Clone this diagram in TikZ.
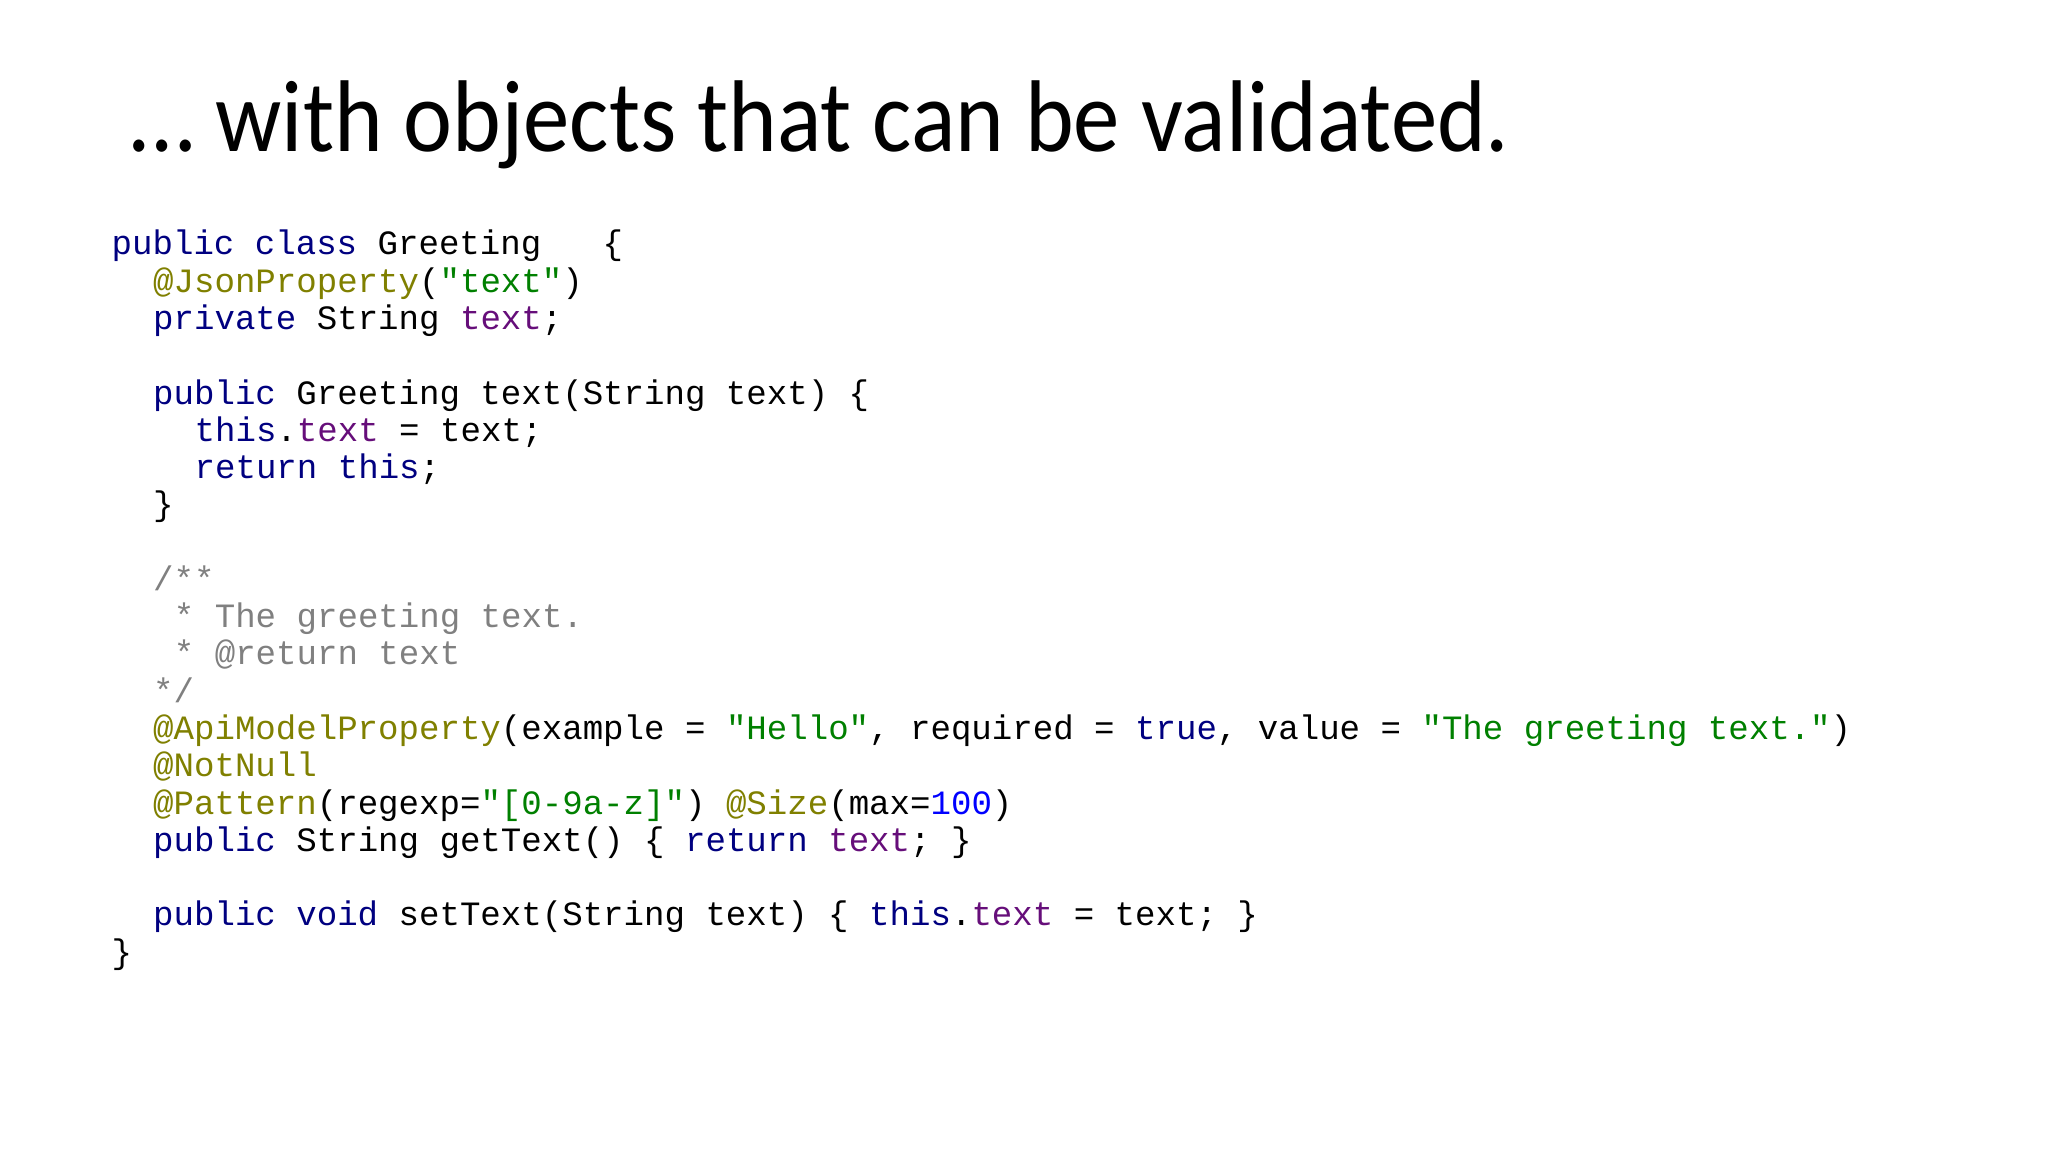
\documentclass[tikz,border=0pt]{standalone}
\usepackage{fontspec}
\setmainfont{Carlito}
\newfontfamily\titlefont[FakeStretch=0.91]{Carlito}
\setmonofont{Liberation Mono}
\definecolor{kw}{HTML}{000080}
\definecolor{an}{HTML}{808000}
\definecolor{st}{HTML}{008000}
\definecolor{fd}{HTML}{660E7A}
\definecolor{cm}{HTML}{808080}
\definecolor{nm}{HTML}{0000FF}
\newcommand{\K}[1]{\textcolor{kw}{#1}}
\newcommand{\A}[1]{\textcolor{an}{#1}}
\newcommand{\Sg}[1]{\textcolor{st}{#1}}
\newcommand{\F}[1]{\textcolor{fd}{#1}}
\newcommand{\Cm}[1]{\textcolor{cm}{#1}}
\newcommand{\Nm}[1]{\textcolor{nm}{#1}}
\tikzset{code/.style={anchor=base west,inner sep=0pt,font=\fontsize{9.7pt}{11pt}\ttfamily},
 ttl/.style={anchor=base west,inner sep=0pt,font=\titlefont\fontsize{29pt}{32pt}\selectfont}}
\newcommand{\cl}[3]{\node[code] (l#1) at ({1.11+#2*0.2074},{-(2.55+(#1-1)*0.3727)}) {#3};}
\begin{document}
\begin{tikzpicture}
\useasboundingbox[fill=white] (0,0) rectangle (20.48,-11.52);
\node[ttl] (title) at (1.30,-1.52) {… with objects that can be validated.};
\cl{1}{0}{\K{public class} Greeting\ \ \ \{}
\cl{2}{2}{\A{@JsonProperty}(\Sg{"text"})}
\cl{3}{2}{\K{private} String \F{text};}
\cl{5}{2}{\K{public} Greeting text(String text) \{}
\cl{6}{4}{\K{this}.\F{text} = text;}
\cl{7}{4}{\K{return this};}
\cl{8}{2}{\}}
\cl{10}{2}{\Cm{/**}}
\cl{11}{3}{\Cm{* The greeting text.}}
\cl{12}{3}{\Cm{* @return text}}
\cl{13}{2}{\Cm{*/}}
\cl{14}{2}{\A{@ApiModelProperty}(example = \Sg{"Hello"}, required = \K{true}, value = \Sg{"The greeting text."})}
\cl{15}{2}{\A{@NotNull}}
\cl{16}{2}{\A{@Pattern}(regexp=\Sg{"[0-9a-z]"}) \A{@Size}(max=\Nm{100})}
\cl{17}{2}{\K{public} String getText() \{ \K{return} \F{text}; \}}
\cl{19}{2}{\K{public void} setText(String text) \{ \K{this}.\F{text} = text; \}}
\cl{20}{0}{\}}
\end{tikzpicture}
\end{document}
